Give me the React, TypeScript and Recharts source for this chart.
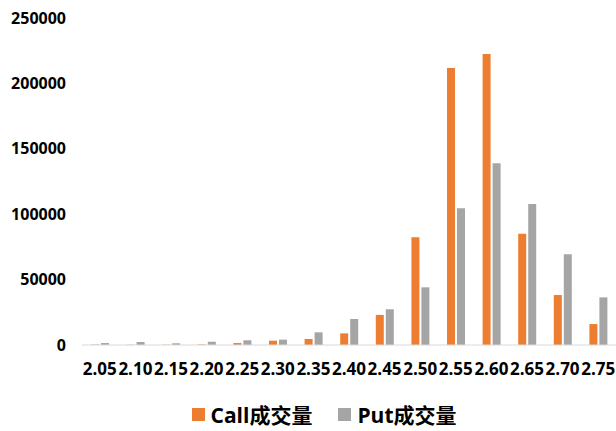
import { BarChart, Bar, XAxis, YAxis, Legend } from "recharts";

const strikes = ["2.05", "2.10", "2.15", "2.20", "2.25", "2.30", "2.35", "2.40", "2.45", "2.50", "2.55", "2.60", "2.65", "2.70", "2.75"];
const callVolume = [300, 200, 200, 400, 1500, 3300, 4600, 8900, 23000, 82300, 211800, 222500, 85000, 38200, 16000];
const putVolume = [1500, 2300, 1300, 2500, 3600, 4100, 9700, 19900, 27300, 44100, 104500, 138900, 107800, 69300, 36400];
const yTicks = [0, 50000, 100000, 150000, 200000, 250000];

const data = strikes.map((s, i) => ({ strike: s, call: callVolume[i], put: putVolume[i] }));

const FONT = "'Open Sans', 'Noto Sans CJK SC', sans-serif";
const ORANGE = "#ED7D31";
const GRAY = "#A5A5A5";

const LegendBox = () => (
  <div
    style={{
      display: "flex",
      justifyContent: "center",
      alignItems: "center",
      height: 44,
      paddingTop: 10,
      boxSizing: "border-box",
      paddingLeft: 32,
      fontFamily: FONT,
      fontWeight: 700,
      fontSize: 21,
      color: "#000",
      gap: 26,
    }}
  >
    <span style={{ display: "flex", alignItems: "center", gap: 6 }}>
      <span style={{ width: 13, height: 13, background: ORANGE, display: "inline-block" }} />
      Call成交量
    </span>
    <span style={{ display: "flex", alignItems: "center", gap: 6 }}>
      <span style={{ width: 13, height: 13, background: GRAY, display: "inline-block" }} />
      Put成交量
    </span>
  </div>
);

export default function App() {
  return (
    <div style={{ position: "absolute", left: 0, top: 0, background: "#fff" }}>
      <BarChart
        width={616}
        height={431}
        data={data}
        margin={{ top: 18, right: 0, left: 0, bottom: 0 }}
        barSize={8}
        barGap={2}
      >
        <XAxis
          dataKey="strike"
          interval={0}
          tickLine={false}
          tickMargin={12}
          axisLine={{ stroke: "#D9D9D9", strokeWidth: 1 }}
          tick={{ fill: "#000", fontSize: 17, fontWeight: 700, fontFamily: FONT }}
          height={42}
        />
        <YAxis
          domain={[0, 250000]}
          ticks={yTicks}
          interval={0}
          axisLine={false}
          tickLine={false}
          tickSize={0}
          tickMargin={16}
          width={82}
          tick={{ fill: "#000", fontSize: 16, fontWeight: 700, fontFamily: FONT }}
        />
        <Legend verticalAlign="bottom" height={44} content={<LegendBox />} />
        <Bar dataKey="call" name="Call成交量" fill={ORANGE} isAnimationActive={false} />
        <Bar dataKey="put" name="Put成交量" fill={GRAY} isAnimationActive={false} />
      </BarChart>
    </div>
  );
}
